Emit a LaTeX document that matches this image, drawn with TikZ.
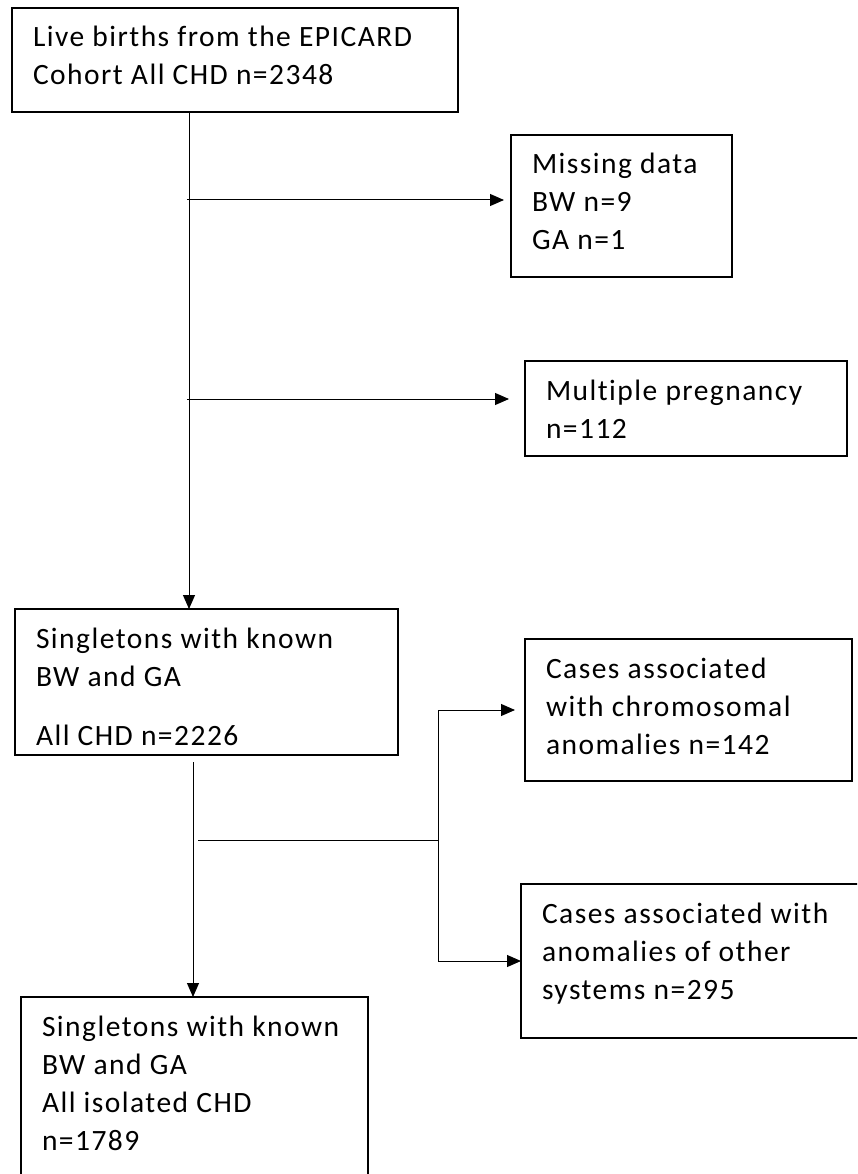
\documentclass[tikz,border=0pt]{standalone}
\usepackage{fontspec}
\setmainfont{Carlito}[LetterSpace=5.0, Ligatures=NoCommon]
\usetikzlibrary{arrows.meta}
\tikzset{
  flowbox/.style={draw, line width=1.5pt, anchor=north west, inner xsep=21pt, inner ysep=12.4pt, outer sep=0pt, font=\fontsize{29.5}{38}\selectfont},
  flowline/.style={line width=1pt},
  flowarrow/.style={line width=1pt, -{Triangle[length=14pt,width=12pt]}}
}
\newcommand{\boxtext}[3]{\parbox[t][#2][t]{#1}{\raggedright\strut #3}}

\begin{document}
\begin{tikzpicture}[x=1pt,y=-1pt]
	\clip (0,0) rectangle (857,1174);
	
	\node[flowbox] (cohort) at (12,8) {\boxtext{404pt}{79.2pt}{Live births from the EPICARD\\Cohort All CHD n=2348}};
	\node[flowbox] (missing) at (511,135) {\boxtext{179pt}{117.2pt}{Missing data\\BW n=9\\GA n=1}};
	\node[flowbox] (multiple) at (525,361) {\boxtext{280pt}{70.2pt}{Multiple pregnancy\\n=112}};
	\node[flowbox] (single) at (15,609) {\boxtext{341pt}{121.2pt}{Singletons with known\\BW and GA\\[21pt]All CHD n=2226}};
	\node[flowbox] (chromo) at (525,639) {\boxtext{285pt}{117.2pt}{Cases associated\\with chromosomal\\anomalies n=142}};
	\node[flowbox] (other) at (521,884) {\boxtext{318pt}{129.2pt}{Cases associated with\\anomalies of other\\systems n=295}};
	\node[flowbox] (isolated) at (21,997) {\boxtext{305pt}{175.2pt}{Singletons with known\\BW and GA\\All isolated CHD\\n=1789}};
	
	\coordinate (trunk) at (189,0);
	\coordinate (trunk2) at (193,0);
	\coordinate (b1) at (187,200);
	\coordinate (b2) at (187,399);
	\coordinate (b3) at (198,840);
	\coordinate (fork) at (438,840);
	
	\draw[flowarrow] (cohort.south -| trunk) -- (single.north -| trunk);
	\draw[flowarrow, shorten >=7pt] (b1) -- (b1 -| missing.west);
	\draw[flowarrow, shorten >=16pt] (b2) -- (b2 -| multiple.west);
	\draw[flowarrow] ([yshift=-7pt]single.south -| trunk2) -- (isolated.north -| trunk2);
	\draw[flowline] (b3) -- (fork);
	\draw[flowarrow, shorten >=10pt] (fork) |- (chromo.west);
	\draw[flowarrow] (fork) |- (other.west);
\end{tikzpicture}
\end{document}
